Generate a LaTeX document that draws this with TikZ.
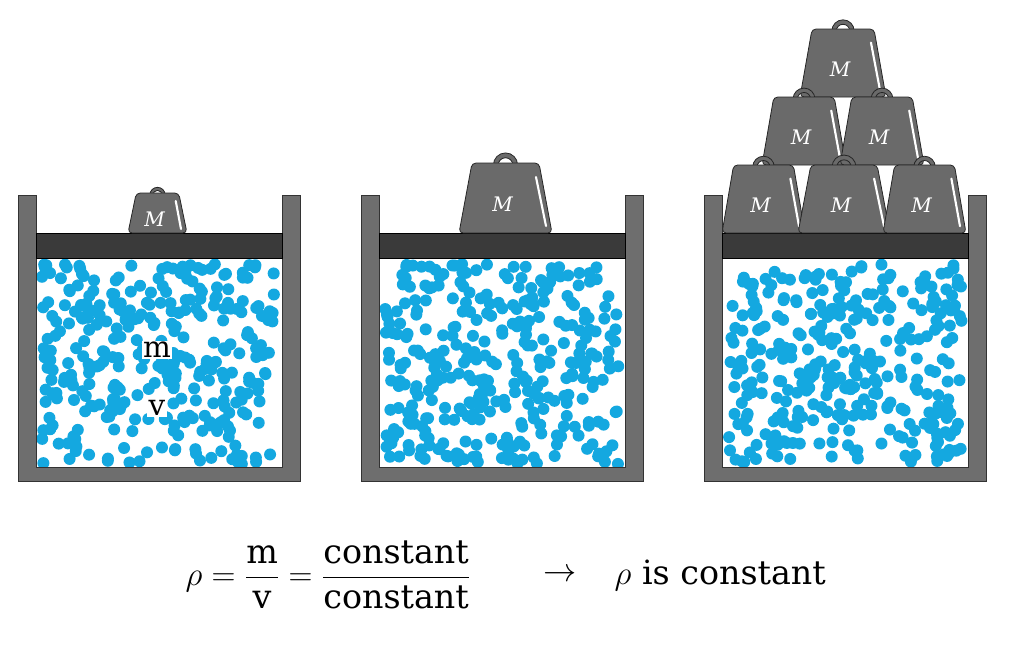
\documentclass[tikz,border=0pt]{standalone}
\usepackage{fontspec}
\setmainfont{DejaVu Serif}
\definecolor{wall}{HTML}{6E6E6E}
\definecolor{piston}{HTML}{3A3A3A}
\definecolor{dot}{HTML}{14A8E0}
\definecolor{wgt}{HTML}{6A6A6A}
\tikzset{wallst/.style={fill=wall,draw=black!80,line width=0.6pt},
 pistonst/.style={fill=piston,draw=black,line width=0.6pt},
 wbody/.style={fill=wgt,draw=black!85,line width=0.6pt},
 ring/.style={draw=black!85,line width=0.6pt,fill=wgt},
 hl/.style={draw=white,line width=1.6pt,line cap=round},
 mlab/.style={text=white,font=\itshape\fontsize{15}{15}\selectfont}}
% #1 left x, #2 right x, #3 bottom y, #4 top y, #5 name
\newcommand\wgtdraw[5]{%
 \pgfmathsetmacro\wl{#1}\pgfmathsetmacro\wr{#2}\pgfmathsetmacro\wb{#3}\pgfmathsetmacro\wtp{#4}%
 \pgfmathsetmacro\wi{0.14*(\wr-\wl)}\pgfmathsetmacro\cx{(\wl+\wr)/2}%
 \pgfmathsetmacro\hr{0.13*(\wr-\wl)}\pgfmathsetmacro\hri{0.6*\hr}%
 \pgfmathsetmacro\hy{\wtp+2}%
 \pgfmathsetmacro\hax{\wr-\wi-3}\pgfmathsetmacro\hay{\wtp+0.2*(\wb-\wtp)}%
 \pgfmathsetmacro\hbx{\wr-6}\pgfmathsetmacro\hby{\wb-0.1*(\wb-\wtp)}%
 \pgfmathsetmacro\ml{\wl+\wi}\pgfmathsetmacro\mr{\wr-\wi}%
 \pgfmathsetmacro\lx{\cx-3}\pgfmathsetmacro\ly{(\wb+\wtp)/2+6}%
 \draw[ring,even odd rule] (\cx,\hy) circle[radius=\hr] (\cx,\hy) circle[radius=\hri];
 \draw[wbody,rounded corners=3] (\wl,\wb) -- (\ml,\wtp) -- (\mr,\wtp) -- (\wr,\wb) -- cycle;
 \draw[hl] (\hax,\hay) -- (\hbx,\hby);
 \node[mlab] (#5) at (\lx,\ly) {M};}
% container at left x #1
\newcommand\container[2]{%
 \fill[white] (#1+18,258) rectangle (#1+264,467);
 \begin{scope}
 \clip (#1+18,258) rectangle (#1+264,467);
 \pgfmathsetseed{#2}
 \foreach \i in {1,...,330}{
  \pgfmathsetmacro\px{#1+24+rnd*234}\pgfmathsetmacro\py{264+rnd*200}
  \fill[dot] (\px,\py) circle[radius=6];}
 \end{scope}
 \draw[wallst] (#1,195) -- (#1+18,195) -- (#1+18,467) -- (#1+264,467) -- (#1+264,195) -- (#1+282,195) -- (#1+282,481) -- (#1,481) -- cycle;
 \draw[pistonst] (#1+18,233) rectangle (#1+264,258);}
\begin{document}
\begin{tikzpicture}[x=0.75pt,y=-0.75pt]
\useasboundingbox (0,0) rectangle (1012,647);
\container{18}{11}
\container{361}{27}
\container{704}{53}
\node[fill=white,inner sep=1pt,font=\fontsize{22}{22}\selectfont] (m) at (157,350) {m};
\node[fill=white,inner sep=1pt,font=\fontsize{22}{22}\selectfont] (v) at (157,408) {v};
\wgtdraw{128}{187}{233}{193}{w1}
\wgtdraw{459}{552}{233}{163}{w2}
\wgtdraw{800}{886}{97}{29}{w3a}
\wgtdraw{762}{846}{165}{97}{w3b}
\wgtdraw{840}{924}{165}{97}{w3c}
\wgtdraw{722}{805}{233}{165}{w3d}
\wgtdraw{798}{890}{233}{165}{w3e}
\wgtdraw{883}{966}{233}{165}{w3f}
\node[font=\fontsize{25}{30}\selectfont] (eq) at (328,575) {$\displaystyle\rho = \frac{\mathrm{m}}{\mathrm{v}} = \frac{\mathrm{constant}}{\mathrm{constant}}$};
\node[font=\fontsize{25}{30}\selectfont] (arr) at (560,575) {$\rightarrow$};
\node[font=\fontsize{25}{30}\selectfont,anchor=west] (res) at (610,575) {$\rho$ is constant};
\end{tikzpicture}
\end{document}
